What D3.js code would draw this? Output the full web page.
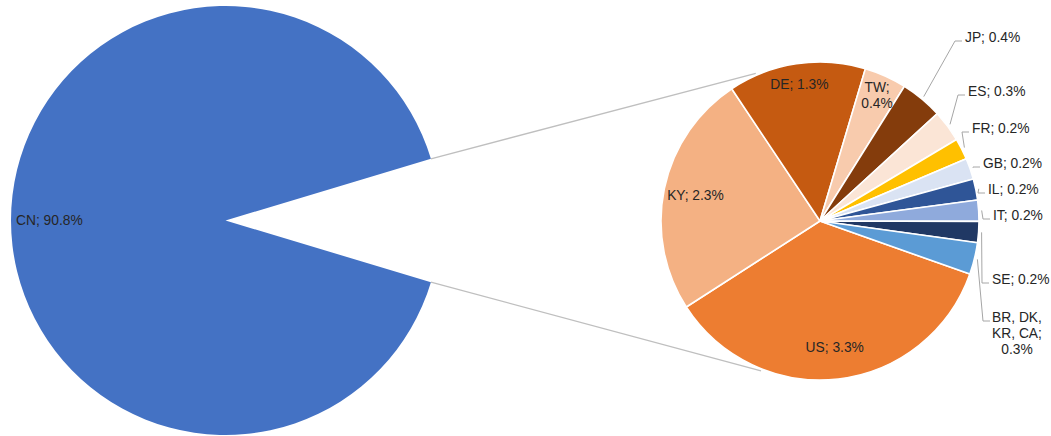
<!DOCTYPE html>
<html>
<head>
<meta charset="utf-8">
<script src="https://cdn.jsdelivr.net/npm/d3@7"></script>
<style>
  html, body { margin: 0; padding: 0; background: #fff; }
  svg { display: block; }
  text { font-family: "Liberation Sans", Arial, sans-serif; font-size: 13.8px; fill: #262626; }
</style>
</head>
<body>
<svg id="chart" width="1051" height="436"></svg>
<script>
// Main pie: the dominant country plus the share that is broken out
const mainName = "CN";
const mainValue = 90.8;

// Breakout pie: remaining countries, clockwise
const subNames = ["US", "KY", "DE", "TW", "JP", "ES", "FR", "GB", "IL", "IT", "SE", "BR, DK, KR, CA"];
const subValues = [3.3, 2.3, 1.3, 0.4, 0.4, 0.3, 0.2, 0.2, 0.2, 0.2, 0.2, 0.3];
const subColors = ["#ED7D31", "#F4B183", "#C55A11", "#F8CBAD", "#843C0C", "#FBE5D6",
                   "#FFC000", "#DAE3F3", "#2F5597", "#8FAADC", "#203864", "#5B9BD5"];
const mainColor = "#4472C4";

// Slices whose labels sit inside the pie
const insideLabels = ["US", "KY", "DE", "TW"];

const svg = d3.select("#chart");
const deg = Math.PI / 180;

// Layout
const main = { cx: 225.5, cy: 220.5, r: 214.5 };
const sub = { cx: 820, cy: 221, r: 159 };
const subStart = 109.5 * deg;

// Label placement for the small outer slices (offset of text start from the breakout centre)
const outerLabelPos = {
  "JP": [145, -184],
  "ES": [148, -130],
  "FR": [152, -93],
  "GB": [163, -58],
  "IL": [168, -32],
  "IT": [173, -6],
  "SE": [172, 58],
  "BR, DK, KR, CA": [173, 96]
};

const fmt = v => d3.format(".1f")(v) + "%";
const polar = (c, r, a) => [c.cx + r * Math.sin(a), c.cy - r * Math.cos(a)];

const subTotal = d3.sum(subValues);
const total = mainValue + subTotal;

// ---- main pie: CN slice, with the gap centred on the right ----
const halfGap = Math.PI * subTotal / total;
const mainPie = d3.pie().sort(null)
  .startAngle(Math.PI / 2 + halfGap)
  .endAngle(Math.PI / 2 + halfGap + 2 * Math.PI);
const mainArcs = mainPie([mainValue, subTotal]);
const mainArc = d3.arc().innerRadius(0).outerRadius(main.r);

const gMain = svg.append("g").attr("transform", `translate(${main.cx},${main.cy})`);
gMain.append("path")
  .attr("d", mainArc(mainArcs[0]))
  .attr("fill", mainColor);

gMain.append("text")
  .attr("x", -main.r + 5)
  .attr("y", 0)
  .attr("dy", "0.35em")
  .attr("text-anchor", "start")
  .text(`${mainName}; ${fmt(mainValue)}`);

// ---- connector lines between the pies ----
const gapTop = mainArcs[1].startAngle;
const gapBottom = mainArcs[1].endAngle;
const connectors = [
  [polar(main, main.r, gapTop), polar(sub, sub.r + 2, -23.5 * deg)],
  [polar(main, main.r, gapBottom), polar(sub, sub.r + 2, 201.5 * deg)]
];
svg.append("g").selectAll("line")
  .data(connectors)
  .join("line")
  .attr("x1", d => d[0][0]).attr("y1", d => d[0][1])
  .attr("x2", d => d[1][0]).attr("y2", d => d[1][1])
  .attr("stroke", "#BFBFBF")
  .attr("stroke-width", 1.3);

// ---- breakout pie ----
const subPie = d3.pie().sort(null)
  .startAngle(subStart)
  .endAngle(subStart + 2 * Math.PI);
const subArcs = subPie(subValues).map((d, i) => Object.assign(d, { name: subNames[i], color: subColors[i] }));
const subArc = d3.arc().innerRadius(0).outerRadius(sub.r);

const gSub = svg.append("g").attr("transform", `translate(${sub.cx},${sub.cy})`);
gSub.selectAll("path")
  .data(subArcs)
  .join("path")
  .attr("d", subArc)
  .attr("fill", d => d.color)
  .attr("stroke", "#fff")
  .attr("stroke-width", 1.6)
  .attr("stroke-linejoin", "round");

// inside labels: large slices a little closer to the centre
const lineH = 16;
subArcs.filter(d => insideLabels.includes(d.name)).forEach(d => {
  const lr = sub.r * (d.value > 2 ? 0.80 : 0.87);
  const [x, y] = d3.arc().innerRadius(lr).outerRadius(lr).centroid(d);
  const lines = d.name === "TW" ? [`${d.name};`, fmt(d.value)] : [`${d.name}; ${fmt(d.value)}`];
  const t = gSub.append("text")
    .attr("text-anchor", "middle")
    .attr("x", x)
    .attr("y", y - (lines.length - 1) * lineH / 2);
  lines.forEach((s, k) => {
    t.append("tspan").attr("x", x).attr("dy", k === 0 ? "0.35em" : lineH).text(s);
  });
});

// outside labels with leader lines
const gLead = svg.append("g");
subArcs.filter(d => !insideLabels.includes(d.name)).forEach(d => {
  const off = outerLabelPos[d.name];
  const tx = sub.cx + off[0];
  const ty = sub.cy + off[1];
  const mid = (d.startAngle + d.endAngle) / 2;
  const p0 = polar(sub, sub.r + 3, mid);
  const hookY = ty + 4;
  const pts = [p0, [tx - 10, hookY], [tx - 3, hookY]];
  gLead.append("path")
    .attr("d", d3.line()(pts))
    .attr("fill", "none")
    .attr("stroke", "#A6A6A6")
    .attr("stroke-width", 1);

  if (d.name.includes(",")) {
    const parts = d.name.split(", ");
    const lines = [`${parts[0]}, ${parts[1]},`, `${parts[2]}, ${parts[3]};`, fmt(d.value)];
    const cxText = tx + 24;
    const t = svg.append("text").attr("text-anchor", "middle").attr("x", cxText).attr("y", ty);
    lines.forEach((s, k) => {
      t.append("tspan").attr("x", cxText).attr("dy", k === 0 ? "0.35em" : lineH).text(s);
    });
  } else {
    svg.append("text")
      .attr("x", tx)
      .attr("y", ty)
      .attr("dy", "0.35em")
      .text(`${d.name}; ${fmt(d.value)}`);
  }
});
</script>
</body>
</html>
